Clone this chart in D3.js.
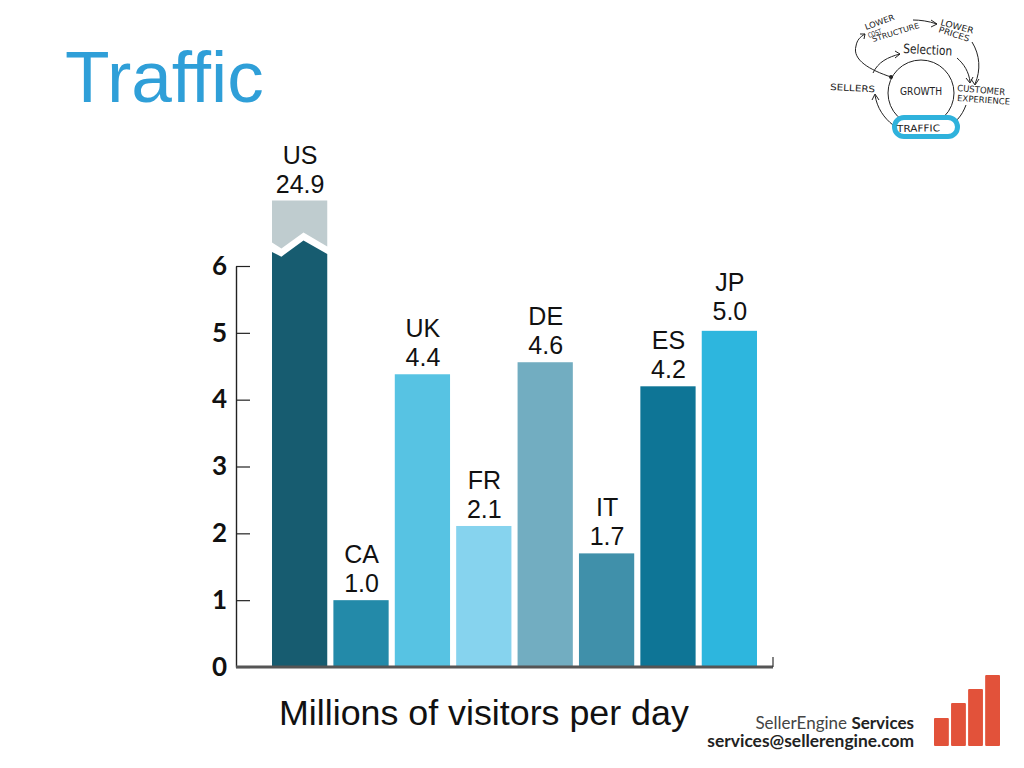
<!DOCTYPE html>
<html><head><meta charset="utf-8">
<script src="https://cdn.jsdelivr.net/npm/d3@7"></script>
<style>html,body{margin:0;padding:0;background:#fff}svg{display:block}</style>
</head><body><svg id="c" width="1024" height="768"></svg>
<script>
const categories = ["US","CA","UK","FR","DE","IT","ES","JP"];
const valueLabels = ["24.9","1.0","4.4","2.1","4.6","1.7","4.2","5.0"];
const barHeights = [6.98,1.0,4.38,2.11,4.56,1.7,4.2,5.03];
const barColors = ["#175c70","#238aa9","#57c3e3","#86d3ee","#72adc1","#4090aa","#0e7596","#2db6de"];
const yTicks = [0,1,2,3,4,5,6];
const breakPos = [0,0.17,0.57,1];
const breakUpper = [6.35,6.26,6.50,6.29];
const breakLower = [6.21,6.14,6.38,6.18];
const breakColorTop = "#bfcccf";
const logoNames = ["a","b","c","d"];
const logoValues = [28,43,57,71];
const titleText = "Traffic";
const axisTitle = "Millions of visitors per day";

const svg = d3.select("#c");
const y = d3.scaleLinear().domain([0,6]).range([667,266]);
const x = d3.scaleBand().domain(categories).range([272,757]).paddingInner(0.1);
const F = "'Liberation Sans',Arial,sans-serif";

svg.append("text").attr("x",65).attr("y",102).attr("font-family",F).attr("font-size",73)
  .attr("fill","#2f9fd8").text(titleText);

// axis
const ax = svg.append("g").attr("transform","translate(236,0)")
  .call(d3.axisLeft(y).tickValues(yTicks).tickFormat(d3.format("d")).tickSizeInner(-14).tickSizeOuter(0).tickPadding(9));
ax.select(".domain").attr("stroke","#222").attr("stroke-width",1.4);
ax.selectAll(".tick line").attr("stroke","#222").attr("stroke-width",1.2);
ax.selectAll(".tick text").attr("font-family","Lato,'Open Sans',sans-serif").attr("font-weight",700)
  .attr("font-size",26).attr("fill","#111");

// bars
const plain = categories.map((c,i)=>({c,i})).filter(d=>d.i>0);
svg.selectAll("rect.bar").data(plain).join("rect").attr("class","bar")
  .attr("x",d=>x(d.c)).attr("width",x.bandwidth())
  .attr("y",d=>y(barHeights[d.i])).attr("height",d=>y(0)-y(barHeights[d.i]))
  .attr("fill",d=>barColors[d.i]);

// broken US bar
const bx = p => x("US")+p*x.bandwidth();
const lowerPts = breakPos.map((p,i)=>[bx(p),y(breakLower[i])]);
const upperPts = breakPos.map((p,i)=>[bx(p),y(breakUpper[i])]);
const area = d3.line();
svg.append("path").attr("fill",barColors[0])
  .attr("d",area([...lowerPts,[bx(1),y(0)],[bx(0),y(0)]])+"Z");
svg.append("path").attr("fill",breakColorTop)
  .attr("d",area([...upperPts,[bx(1),y(barHeights[0])],[bx(0),y(barHeights[0])]])+"Z");

// baseline
svg.append("line").attr("x1",236).attr("x2",773).attr("y1",y(0)).attr("y2",y(0))
  .attr("stroke","#555").attr("stroke-width",3);
svg.append("line").attr("x1",773).attr("x2",773).attr("y1",y(0)).attr("y2",y(0)-10)
  .attr("stroke","#333").attr("stroke-width",1.2);

// labels
const lab = svg.selectAll("g.lab").data(categories).join("g").attr("class","lab")
  .attr("font-family",F).attr("font-size",25).attr("fill","#111").attr("text-anchor","middle")
  .attr("transform",(c,i)=>`translate(${x(c)+x.bandwidth()/2+0.5},${y(barHeights[i])-(c==="JP"?11:8)})`);
lab.append("text").attr("y",-29).text(c=>c);
lab.append("text").text((c,i)=>valueLabels[i]);

svg.append("text").attr("x",279).attr("y",725).attr("font-family",F).attr("font-size",35.8)
  .attr("fill","#111").text(axisTitle);

// footer
const foot = svg.append("g").attr("font-family","Lato,'Open Sans',sans-serif").attr("text-anchor","end").attr("fill","#222");
const l1 = foot.append("text").attr("x",914).attr("y",729).attr("font-size",17);
l1.append("tspan").text("SellerEngine ").attr("fill","#444");
l1.append("tspan").text("Services").attr("font-weight",700).attr("fill","#222");
foot.append("text").attr("x",914).attr("y",747).attr("font-size",17.4).attr("font-weight",700).text("services@sellerengine.com");
const lx = d3.scaleBand().domain(logoNames).range([934,1000]).paddingInner(0.13);
const ly = d3.scaleLinear().domain([0,71]).range([746,675]);
svg.selectAll("rect.logo").data(logoValues).join("rect").attr("class","logo")
  .attr("x",(d,i)=>lx(logoNames[i])).attr("width",lx.bandwidth())
  .attr("y",d=>ly(d)).attr("height",d=>ly(0)-ly(d)).attr("fill","#e2523a").attr("rx",1);

// flywheel sketch
const s = svg.append("g").attr("fill","none").attr("stroke","#222").attr("stroke-width",1);
s.append("circle").attr("cx",921).attr("cy",93).attr("r",33);
const paths = [
 "M891 77 C870 70 852 60 856 46 C857 40 860 37 865 34",
 "M873 73 C878 62 888 57 900 54",
 "M913 20 C920 20 928 21 937 24",
 "M972 42 C980 55 981 70 975 84",
 "M957 58 C964 64 969 72 970 82",
 "M966 105 C962 116 955 124 945 128",
 "M893 125 C884 118 877 108 875 95"
];
s.selectAll("path.a").data(paths).join("path").attr("class","a").attr("d",d=>d);
const heads = ["M860 34 L865 34 L864 39","M895 51 L900 54 L895 58","M931 20 L937 24 L931 27","M971 79 L975 85 L979 79","M966 78 L970 83 L973 77","M951 123 L945 128 L952 131","M872 100 L875 94 L879 100"];
s.selectAll("path.h").data(heads).join("path").attr("class","h").attr("d",d=>d);
svg.append("circle").attr("cx",891).attr("cy",77).attr("r",2).attr("fill","#222");
svg.append("rect").attr("x",894.5).attr("y",117.5).attr("width",63).attr("height",19).attr("rx",9.5)
  .attr("fill","#fff").attr("stroke","#2fb2dc").attr("stroke-width",5);
// text, x, y, rotation, size, fitted length
const sk = [
 ["LOWER",866,30,-20,8,31],["COST",869,38,-20,7,14],["STRUCTURE",873,42,-17,7.5,49],
 ["LOWER",940,25,15,8.5,34],["PRICES",938,32,18,8.5,32],
 ["Selection",903,53,3,13,49],["SELLERS",830,90,3,9,45],["GROWTH",900,95,0,10,42],
 ["CUSTOMER",957,91,5,9,48],["EXPERIENCE",957,101,4,8.5,53],["TRAFFIC",897,132,-1,9.5,43]
];
svg.selectAll("text.sk").data(sk).join("text").attr("class","sk")
  .attr("font-family","'DejaVu Sans',sans-serif").attr("fill","#222")
  .attr("font-size",d=>d[4]).attr("textLength",d=>d[5]).attr("lengthAdjust","spacingAndGlyphs")
  .attr("transform",d=>`translate(${d[1]},${d[2]}) rotate(${d[3]})`)
  .text(d=>d[0]);
</script></body></html>
